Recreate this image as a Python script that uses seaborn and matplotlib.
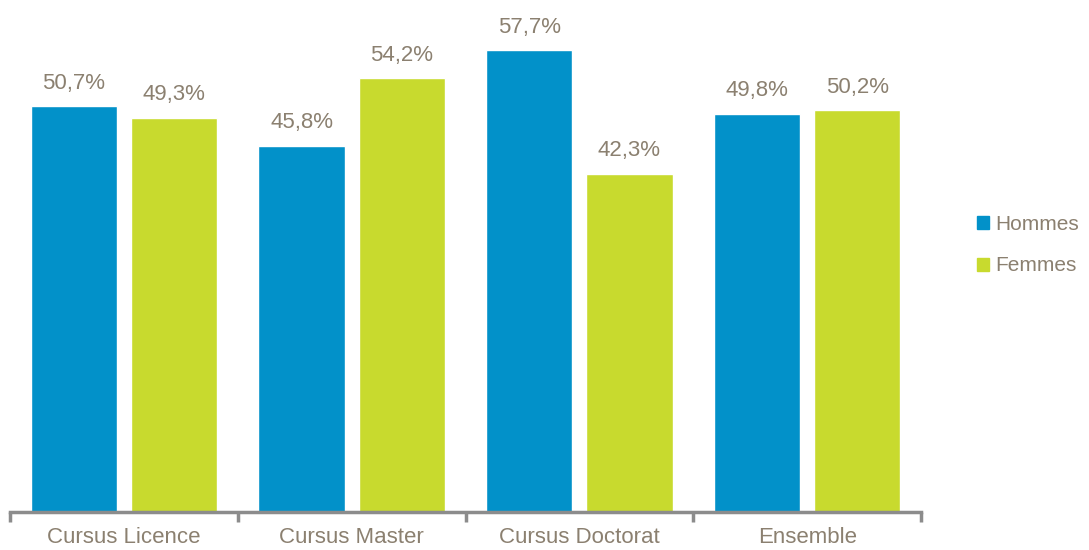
import pandas as pd
import matplotlib.pyplot as plt
import seaborn as sns

# données
categories = ['Cursus Licence', 'Cursus Master', 'Cursus Doctorat', 'Ensemble']
hommes = [50.7, 45.8, 57.7, 49.8]
femmes = [49.3, 54.2, 42.3, 50.2]
series = ['Hommes', 'Femmes']
couleurs = ['#0291C9', '#C8DA2E']
texte = '#8B8070'

df = pd.DataFrame({
    'cursus': categories * 2,
    'sexe': ['Hommes'] * len(categories) + ['Femmes'] * len(categories),
    'part': hommes + femmes,
})

sns.set_style('white')
plt.rcParams['font.family'] = ['Liberation Sans', 'DejaVu Sans']

fig = plt.figure(figsize=(10.89, 5.50), dpi=100)
ax = fig.add_axes([10 / 1089, 38 / 550, 911 / 1089, 512 / 550])

sns.barplot(data=df, x='cursus', y='part', hue='sexe', order=categories,
            hue_order=series, palette=couleurs, width=0.88, gap=0.14,
            saturation=1, ax=ax, legend=True)

# étiquettes de valeur
for cont in ax.containers:
    ax.bar_label(cont, labels=[f'{v:.1f}%'.replace('.', ',') for v in cont.datavalues],
                 padding=9, fontsize=16, color=texte)

ax.set_ylim(0, 64)
ax.set_xlim(-0.5, len(categories) - 0.5)
ax.set_xlabel('')
ax.set_ylabel('')
ax.set_yticks([])

# graduations aux limites des catégories, libellés au centre
ax.set_xticks([i - 0.5 for i in range(len(categories) + 1)])
ax.set_xticklabels([])
ax.set_xticks(range(len(categories)), minor=True)
ax.set_xticklabels(categories, minor=True, fontsize=16, color=texte)
ax.tick_params(axis='x', which='major', bottom=True, length=7, width=2.5,
               color='#8C8C8C', direction='out')
ax.tick_params(axis='x', which='minor', bottom=True, length=0, pad=11)

for s in ['top', 'right', 'left']:
    ax.spines[s].set_visible(False)
ax.spines['bottom'].set_color('#8C8C8C')
ax.spines['bottom'].set_linewidth(2.5)

ax.legend_.remove()
leg = fig.legend(handles=[plt.Rectangle((0, 0), 1, 1, color=c) for c in couleurs],
                 labels=series, loc='center left', bbox_to_anchor=(958 / 1089, 1 - 245 / 550),
                 frameon=False, fontsize=15, handlelength=0.6, handleheight=0.6,
                 handletextpad=0.3, labelspacing=1.1, labelcolor=texte)

fig.savefig('out.png', dpi=100, facecolor='white')
